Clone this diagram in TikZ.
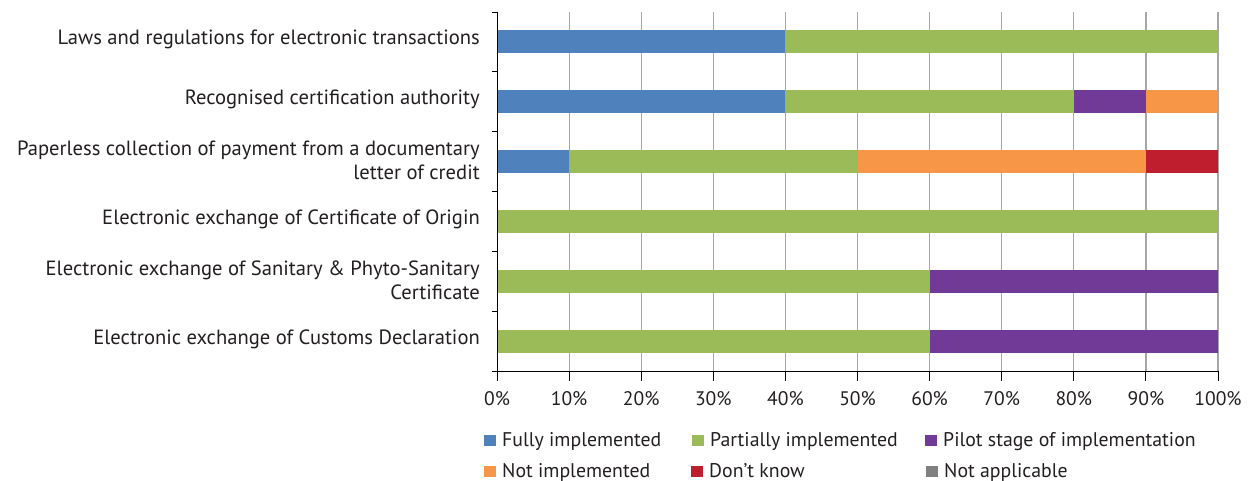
\documentclass[tikz,border=0pt]{standalone}
\usepackage{fontspec}
\setmainfont{PT Sans}
\definecolor{cblue}{RGB}{79,129,189}
\definecolor{cgreen}{RGB}{155,187,89}
\definecolor{cpurple}{RGB}{112,58,150}
\definecolor{corange}{RGB}{247,150,70}
\definecolor{cred}{RGB}{190,30,45}
\definecolor{cgray}{RGB}{128,128,128}
\definecolor{ctext}{RGB}{35,31,32}
\begin{document}
\begin{tikzpicture}[x=1pt,y=-1pt,
  lbl/.style={anchor=east,align=right,text=ctext,font=\fontsize{20.6}{24}\selectfont,inner sep=0pt},
  tick/.style={anchor=north,text=ctext,font=\fontsize{19.6}{22}\selectfont,inner sep=0pt},
  leg/.style={anchor=base west,text=ctext,font=\fontsize{19.8}{22}\selectfont,inner sep=0pt},
  grid/.style={draw=gray!70,line width=1.2pt},
  ax/.style={draw=black,line width=1pt}]
\useasboundingbox (0,0) rectangle (1255,480);
\def\xz{497}\def\xs{72.1}\def\yt{12}\def\yb{371}\def\rh{59.833}
% gridlines
\foreach \i in {1,...,10} \draw[grid] (\xz+\i*\xs,\yt) -- (\xz+\i*\xs,\yb);
% bars
\newcommand\seg[4]{\fill[#4] (\xz+#2*\xs,\yt+\rh*#1-\rh/2-11.5) rectangle (\xz+#3*\xs,\yt+\rh*#1-\rh/2+11.5);}
\seg{1}{0}{4}{cblue}\seg{1}{4}{10}{cgreen}
\seg{2}{0}{4}{cblue}\seg{2}{4}{8}{cgreen}\seg{2}{8}{9}{cpurple}\seg{2}{9}{10}{corange}
\seg{3}{0}{1}{cblue}\seg{3}{1}{5}{cgreen}\seg{3}{5}{9}{corange}\seg{3}{9}{10}{cred}
\seg{4}{0}{10}{cgreen}
\seg{5}{0}{6}{cgreen}\seg{5}{6}{10}{cpurple}
\seg{6}{0}{6}{cgreen}\seg{6}{6}{10}{cpurple}
% axes
\draw[ax] (\xz,\yt) -- (\xz,\yb) -- (\xz+10*\xs,\yb);
\foreach \i in {0,...,6} \draw[ax] (\xz-5,\yt+\i*\rh) -- (\xz,\yt+\i*\rh);
\foreach \i in {0,...,10} {
  \draw[ax] (\xz+\i*\xs,\yb) -- (\xz+\i*\xs,\yb+10);
  \node[tick] (t\i) at (\xz+\i*\xs,391) {\the\numexpr\i*10\relax\%};
}
% labels
\node[lbl] (l1) at (480,39.5) {Laws and regulations for electronic transactions};
\node[lbl] (l2) at (480,99.5) {Recognised certification authority};
\node[lbl] (l3) at (480,160) {Paperless collection of payment from a documentary\\letter of credit};
\node[lbl] (l4) at (480,219.5) {Electronic exchange of Certificate of Origin};
\node[lbl] (l5) at (480,280) {Electronic exchange of Sanitary \& Phyto-Sanitary\\Certificate};
\node[lbl] (l6) at (480,339.5) {Electronic exchange of Customs Declaration};
% legend
\newcommand\legitem[5]{\fill[#4] (#1,#2-11) rectangle (#1+12,#2+0); \node[leg] (#5) at (#1+18,#2) {#3};}
\legitem{484}{446}{Fully implemented}{cblue}{g1}
\legitem{692}{446}{Partially implemented}{cgreen}{g2}
\legitem{925}{446}{Pilot stage of implementation}{cpurple}{g3}
\legitem{484}{477}{Not implemented}{corange}{g4}
\legitem{691}{477}{Don’t know}{cred}{g5}
\legitem{926}{477}{Not applicable}{cgray}{g6}
\end{tikzpicture}
\end{document}
